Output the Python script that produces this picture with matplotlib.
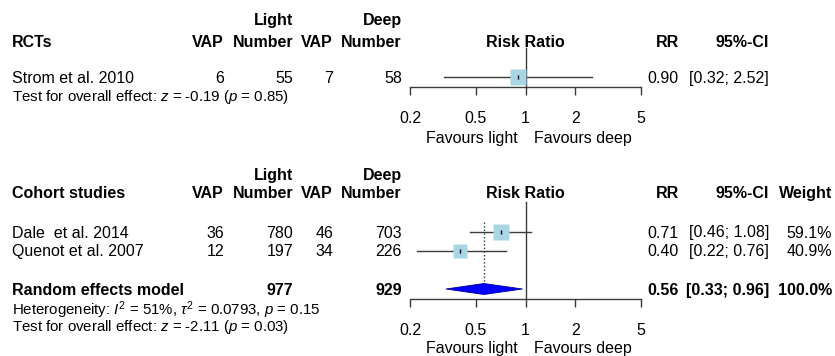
import numpy as np
import matplotlib
matplotlib.use("Agg")
import matplotlib.pyplot as plt
from matplotlib import transforms
from matplotlib.patches import Polygon

plt.rcParams['font.family'] = ['Liberation Sans', 'DejaVu Sans']
plt.rcParams['mathtext.fontset'] = 'custom'
plt.rcParams['mathtext.rm'] = 'Liberation Sans'
plt.rcParams['mathtext.it'] = 'Liberation Sans:italic'
plt.rcParams['mathtext.bf'] = 'Liberation Sans:bold'

# ---------------- data ----------------
rct_studies = ["Strom et al. 2010"]
rct_vap_light = [6]
rct_n_light = [55]
rct_vap_deep = [7]
rct_n_deep = [58]
rct_rr = [0.90]
rct_lo = [0.32]
rct_hi = [2.52]
rct_weight = [100.0]
rct_test = "Test for overall effect: $z$ = -0.19 ($p$ = 0.85)"

coh_studies = ["Dale  et al. 2014", "Quenot et al. 2007"]
coh_vap_light = [36, 12]
coh_n_light = [780, 197]
coh_vap_deep = [46, 34]
coh_n_deep = [703, 226]
coh_rr = [0.71, 0.40]
coh_lo = [0.46, 0.22]
coh_hi = [1.08, 0.76]
coh_weight = [59.1, 40.9]

pooled_label = "Random effects model"
pooled_n_light = 977
pooled_n_deep = 929
pooled_rr = 0.56
pooled_lo = 0.33
pooled_hi = 0.96
pooled_weight = 100.0
het_text = "Heterogeneity: $I^2$ = 51%, $\\tau^2$ = 0.0793, $p$ = 0.15"
coh_test = "Test for overall effect: $z$ = -2.11 ($p$ = 0.03)"

tick_values = [0.2, 0.5, 1, 2, 5]
tick_labels = ["0.2", "0.5", "1", "2", "5"]

# ---------------- layout ----------------
W, H = 835, 356
fig = plt.figure(figsize=(W / 100, H / 100), dpi=100)
FS = 11.5
FS_SMALL = 10.8
SQ_COLOR = '#a9d6e5'
LINE_COLOR = '#3a3a3a'


def T(x, y, s, ha='left', bold=False, size=FS, va='baseline'):
    fig.text(x / W, 1 - y / H, s, ha=ha, va=va, fontsize=size,
             fontweight='bold' if bold else 'normal')


X_NAME = 12
X_C1, X_C2, X_C3, X_C4 = 224, 293, 333, 402
X_RR, X_CI, X_W = 679, 769, 832
X0, X1 = 410, 641


def fmt2(v):
    return f"{v:.2f}"


def ci(lo, hi):
    return f"[{lo:.2f}; {hi:.2f}]"


def make_forest(top_px, bot_px, ref_top, rows_y, rr, lo, hi, weights,
                pooled=None, dash=None, label_base=None, fav_base=None):
    ax = fig.add_axes([X0 / W, 1 - bot_px / H, (X1 - X0) / W, (bot_px - top_px) / H])
    ax.set_xscale('log')
    ax.set_xlim(tick_values[0], tick_values[-1])
    ax.set_ylim(bot_px, top_px)
    ax.patch.set_alpha(0)
    for s in ['top', 'left', 'right']:
        ax.spines[s].set_visible(False)
    ax.spines['bottom'].set_color(LINE_COLOR)
    ax.spines['bottom'].set_linewidth(1.0)
    ax.set_yticks([])
    ax.set_xticks(tick_values)
    ax.set_xticklabels(tick_labels)
    ax.minorticks_off()
    ax.tick_params(axis='x', direction='out', length=5.8, width=1.0,
                   color=LINE_COLOR, labelsize=FS, pad=11.2)
    # reference line at 1
    ax.plot([1, 1], [bot_px, ref_top], color=LINE_COLOR, lw=1.0, clip_on=False)
    if dash is not None:
        ax.plot([pooled[0], pooled[0]], [dash[0], dash[1]], color=LINE_COLOR,
                lw=1.0, ls=(0, (1, 1.6)), clip_on=False)
    wmax = max(weights)
    for y, r, l, h, w in zip(rows_y, rr, lo, hi, weights):
        ax.plot([l, h], [y, y], color=LINE_COLOR, lw=1.0, zorder=2, clip_on=False)
        ax.plot([r], [y], marker='s', ms=11.6 * np.sqrt(w / wmax), color=SQ_COLOR,
                mec='none', zorder=3, clip_on=False)
        ax.plot([r], [y], marker='|', ms=3.5, mew=1.0, color='black', zorder=4,
                clip_on=False)
    if pooled is not None:
        r, l, h, y = pooled
        d = Polygon([[l, y], [r, y - 5.5], [h, y], [r, y + 5.5]], closed=True,
                    facecolor='#0000ff', edgecolor='#000090', lw=0.6, zorder=3)
        ax.add_patch(d)
    # favours labels
    tr = transforms.blended_transform_factory(ax.transData, fig.transFigure)
    trl = transforms.offset_copy(tr, fig=fig, x=-8, y=0, units='dots')
    trr = transforms.offset_copy(tr, fig=fig, x=8, y=0, units='dots')
    ax.text(1, 1 - fav_base / H, "Favours light", transform=trl, ha='right',
            va='baseline', fontsize=FS)
    ax.text(1, 1 - fav_base / H, "Favours deep", transform=trr, ha='left',
            va='baseline', fontsize=FS)
    ax.text(1, 1 - label_base / H, "Risk Ratio", transform=tr, ha='center',
            va='baseline', fontsize=FS, fontweight='bold')
    return ax


# ---------------- RCT panel ----------------
T(X_C2, 25, "Light", ha='right', bold=True)
T(X_C4, 25, "Deep", ha='right', bold=True)
T(X_NAME, 47, "RCTs", bold=True)
for x, s in [(X_C1, "VAP"), (X_C2, "Number"), (X_C3, "VAP"), (X_C4, "Number")]:
    T(x, 47, s, ha='right', bold=True)
T(X_RR, 47, "RR", ha='right', bold=True)
T(X_CI, 47, "95%-CI", ha='right', bold=True)

rct_rows = [83]
for i, y in enumerate(rct_rows):
    T(X_NAME, y, rct_studies[i])
    T(X_C1, y, str(rct_vap_light[i]), ha='right')
    T(X_C2, y, str(rct_n_light[i]), ha='right')
    T(X_C3, y, str(rct_vap_deep[i]), ha='right')
    T(X_C4, y, str(rct_n_deep[i]), ha='right')
    T(X_RR, y, fmt2(rct_rr[i]), ha='right')
    T(X_CI, y, ci(rct_lo[i], rct_hi[i]), ha='right')
T(X_NAME, 101, rct_test, size=FS_SMALL)

make_forest(40, 87, 48, [r - 6 for r in rct_rows], rct_rr, rct_lo, rct_hi,
            rct_weight, label_base=47, fav_base=143)

# ---------------- Cohort panel ----------------
T(X_C2, 180, "Light", ha='right', bold=True)
T(X_C4, 180, "Deep", ha='right', bold=True)
T(X_NAME, 198, "Cohort studies", bold=True)
for x, s in [(X_C1, "VAP"), (X_C2, "Number"), (X_C3, "VAP"), (X_C4, "Number")]:
    T(x, 198, s, ha='right', bold=True)
T(X_RR, 198, "RR", ha='right', bold=True)
T(X_CI, 198, "95%-CI", ha='right', bold=True)
T(X_W, 198, "Weight", ha='right', bold=True)

coh_rows = [237.5, 256]
for i, y in enumerate(coh_rows):
    T(X_NAME, y, coh_studies[i])
    T(X_C1, y, str(coh_vap_light[i]), ha='right')
    T(X_C2, y, str(coh_n_light[i]), ha='right')
    T(X_C3, y, str(coh_vap_deep[i]), ha='right')
    T(X_C4, y, str(coh_n_deep[i]), ha='right')
    T(X_RR, y, fmt2(coh_rr[i]), ha='right')
    T(X_CI, y, ci(coh_lo[i], coh_hi[i]), ha='right')
    T(X_W, y, f"{coh_weight[i]:.1f}%", ha='right')

yp = 295
T(X_NAME, yp, pooled_label, bold=True)
T(X_C2, yp, str(pooled_n_light), ha='right', bold=True)
T(X_C4, yp, str(pooled_n_deep), ha='right', bold=True)
T(X_RR, yp, fmt2(pooled_rr), ha='right', bold=True)
T(X_CI, yp, ci(pooled_lo, pooled_hi), ha='right', bold=True)
T(X_W, yp, f"{pooled_weight:.1f}%", ha='right', bold=True)
T(X_NAME, 315, het_text, size=FS_SMALL)
T(X_NAME, 331.5, coh_test, size=FS_SMALL)

make_forest(195, 299, 202, [r - 5.5 for r in coh_rows], coh_rr, coh_lo, coh_hi,
            coh_weight, pooled=(pooled_rr, pooled_lo, pooled_hi, yp - 6),
            dash=(222, yp - 11.5), label_base=198, fav_base=353)

fig.savefig("out.png", dpi=100, facecolor='white')
